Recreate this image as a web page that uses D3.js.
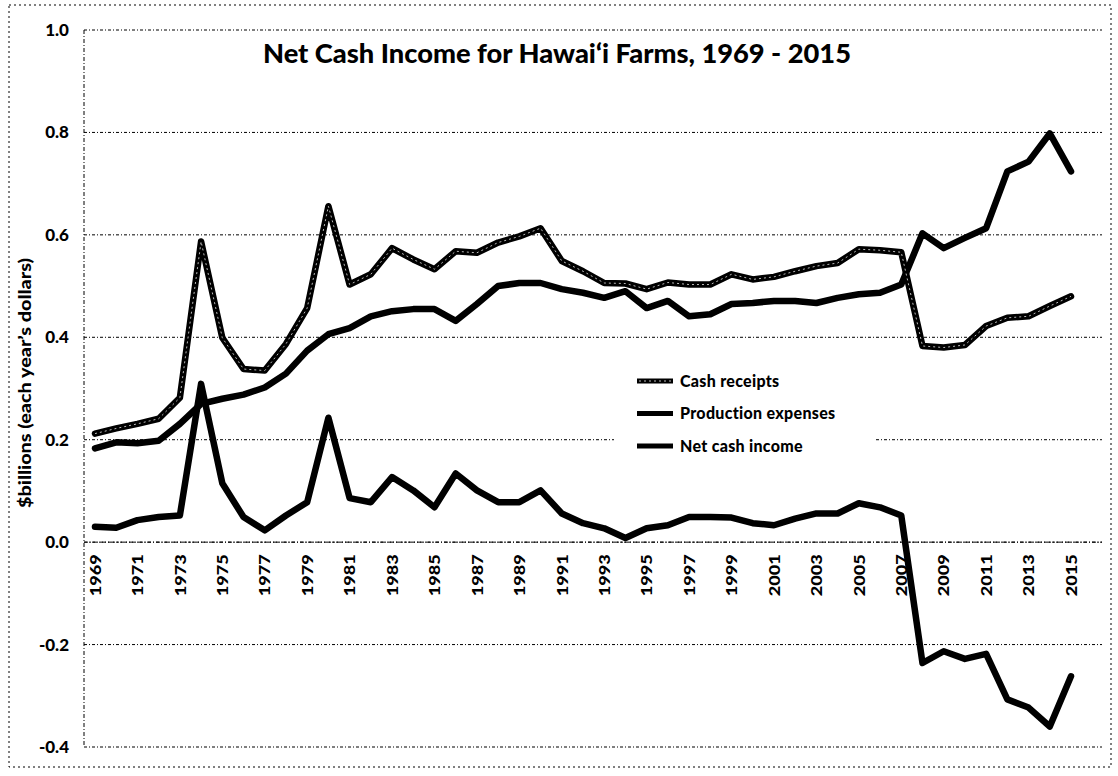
<!DOCTYPE html>
<html lang="en">
<head>
    <meta charset="UTF-8">
    <title>Net Cash Income for Hawai'i Farms</title>
    <script src="https://cdn.jsdelivr.net/npm/d3@7/dist/d3.min.js"></script>
    <style>
        body { margin: 0; background: #fff; }
        * { font-family: Lato, "Open Sans", sans-serif; }
        svg text { font-weight: 900; fill: #000; }
        .grid line { stroke: #000; stroke-width: 1; stroke-dasharray: 3 2 1 2; }
    </style>
</head>
<body>
    <svg id="chart" width="1118" height="776"></svg>
    <script>
        // data, $ billions
        var years = d3.range(1969, 2016);
        var cashReceipts = [0.212, 0.222, 0.231, 0.241, 0.282, 0.587, 0.399, 0.338, 0.335, 0.387,
            0.457, 0.656, 0.503, 0.523, 0.574, 0.552, 0.533, 0.568, 0.565, 0.585,
            0.597, 0.613, 0.549, 0.529, 0.506, 0.505, 0.494, 0.507, 0.503, 0.503,
            0.523, 0.513, 0.518, 0.529, 0.539, 0.545, 0.572, 0.570, 0.566, 0.383,
            0.380, 0.385, 0.422, 0.438, 0.441, 0.461, 0.480];
        var productionExpenses = [0.183, 0.195, 0.193, 0.198, 0.231, 0.270, 0.280, 0.288, 0.302, 0.329,
            0.374, 0.406, 0.418, 0.441, 0.451, 0.455, 0.455, 0.432, 0.465, 0.500,
            0.506, 0.506, 0.494, 0.487, 0.477, 0.490, 0.457, 0.471, 0.441, 0.445,
            0.465, 0.467, 0.471, 0.471, 0.467, 0.477, 0.484, 0.487, 0.503, 0.603,
            0.574, 0.594, 0.613, 0.724, 0.743, 0.798, 0.724];
        var netCashIncome = [0.030, 0.028, 0.043, 0.049, 0.052, 0.309, 0.115, 0.049, 0.023, 0.052,
            0.078, 0.243, 0.086, 0.078, 0.127, 0.101, 0.068, 0.134, 0.101, 0.078,
            0.078, 0.101, 0.056, 0.037, 0.027, 0.008, 0.027, 0.033, 0.049, 0.049,
            0.048, 0.037, 0.033, 0.046, 0.056, 0.056, 0.076, 0.068, 0.052, -0.236,
            -0.213, -0.228, -0.218, -0.307, -0.323, -0.360, -0.262];
        var yTicks = [-0.4, -0.2, 0.0, 0.2, 0.4, 0.6, 0.8, 1.0];
        var xTickYears = years.filter(function (d) { return d % 2 === 1; });
        var seriesNames = ["Cash receipts", "Production expenses", "Net cash income"];

        var svg = d3.select("#chart");
        var plotLeft = 84, plotRight = 1102, plotTop = 30, plotBottom = 747;

        var x = d3.scalePoint().domain(years).range([95, 1071]);
        var y = d3.scaleLinear().domain([-0.4, 1.0]).range([plotBottom, plotTop]);

        // outer dotted frame
        svg.append("rect")
            .attr("x", 9).attr("y", 5).attr("width", 1102).attr("height", 762)
            .attr("fill", "none").attr("stroke", "#000").attr("stroke-width", 1)
            .attr("stroke-dasharray", "2 3");

        // gridlines
        var grid = svg.append("g").attr("class", "grid");
        grid.selectAll("line").data(yTicks).enter().append("line")
            .attr("x1", plotLeft).attr("x2", plotRight)
            .attr("y1", function (d) { return y(d); })
            .attr("y2", function (d) { return y(d); });

        // left axis line
        svg.append("line")
            .attr("x1", plotLeft).attr("x2", plotLeft).attr("y1", plotTop).attr("y2", plotBottom)
            .attr("stroke", "#000").attr("stroke-dasharray", "4 2 1 2");

        // y axis labels (plain hyphen for negatives, like the original)
        var yAxis = d3.axisLeft(y).tickValues(yTicks)
            .tickFormat(function (d) { return d.toFixed(1).replace("-0.0", "0.0"); })
            .tickSize(0).tickPadding(0);
        var gy = svg.append("g").attr("transform", "translate(69,0)").call(yAxis);
        gy.select(".domain").remove();
        gy.selectAll("text").style("font-size", "17px").style("font-weight", "900");

        // x axis labels along y = 0
        var xAxis = d3.axisBottom(x).tickValues(xTickYears).tickSize(0).tickPadding(0);
        var gx = svg.append("g").attr("transform", "translate(0," + y(0) + ")").call(xAxis);
        gx.select(".domain").attr("d", "M" + plotLeft + ",0H" + plotRight)
            .attr("stroke", "#000").attr("stroke-dasharray", "4 2 1 2");
        gx.selectAll("text")
            .style("font-size", "15px").style("font-weight", "900")
            .attr("text-anchor", "end")
            .attr("transform", "rotate(-90)")
            .attr("x", -12).attr("y", 0).attr("dy", "0.35em")
            .attr("textLength", 42).attr("lengthAdjust", "spacingAndGlyphs");

        // lines
        var line = d3.line()
            .x(function (d, i) { return x(years[i]); })
            .y(function (d) { return y(d); })
            .curve(d3.curveLinear);

        function drawSeries(values, hollow) {
            svg.append("path").datum(values)
                .attr("fill", "none").attr("stroke", "#000")
                .attr("stroke-width", 6.5).attr("stroke-linejoin", "round").attr("stroke-linecap", "round")
                .attr("d", line);
            if (hollow) {
                svg.append("path").datum(values)
                    .attr("fill", "none").attr("stroke", "#bbb")
                    .attr("stroke-width", 1).attr("stroke-dasharray", "2 3")
                    .attr("d", line);
            }
        }
        drawSeries(netCashIncome, false);
        drawSeries(productionExpenses, false);
        drawSeries(cashReceipts, true);

        // legend
        var legend = svg.append("g");
        legend.append("rect").attr("x", 614).attr("y", 362).attr("width", 260).attr("height", 100).attr("fill", "#fff");
        var rows = legend.selectAll("g.row").data(seriesNames).enter().append("g")
            .attr("transform", function (d, i) { return "translate(637," + (381 + i * 32.5) + ")"; });
        rows.append("line").attr("x1", 0).attr("x2", 36).attr("y1", 0).attr("y2", 0)
            .attr("stroke", "#000").attr("stroke-width", 5);
        rows.filter(function (d, i) { return i === 0; }).append("line")
            .attr("x1", 2).attr("x2", 34).attr("y1", 0).attr("y2", 0)
            .attr("stroke", "#bbb").attr("stroke-width", 1).attr("stroke-dasharray", "2 3");
        rows.append("text").attr("x", 43).attr("dy", "0.35em")
            .style("font-size", "16px").style("letter-spacing", "0.3px")
            .text(function (d) { return d; });

        // titles
        svg.append("text").attr("x", 557).attr("y", 63).attr("text-anchor", "middle")
            .style("font-size", "27px")
            .attr("textLength", 588).attr("lengthAdjust", "spacingAndGlyphs")
            .text("Net Cash Income for Hawai\u2018i Farms, 1969 - 2015");
        svg.append("text").attr("transform", "translate(31,383) rotate(-90)").attr("text-anchor", "middle")
            .style("font-size", "17px")
            .attr("textLength", 250).attr("lengthAdjust", "spacingAndGlyphs")
            .text("$billions (each year\u2019s dollars)");
    </script>
</body>
</html>
